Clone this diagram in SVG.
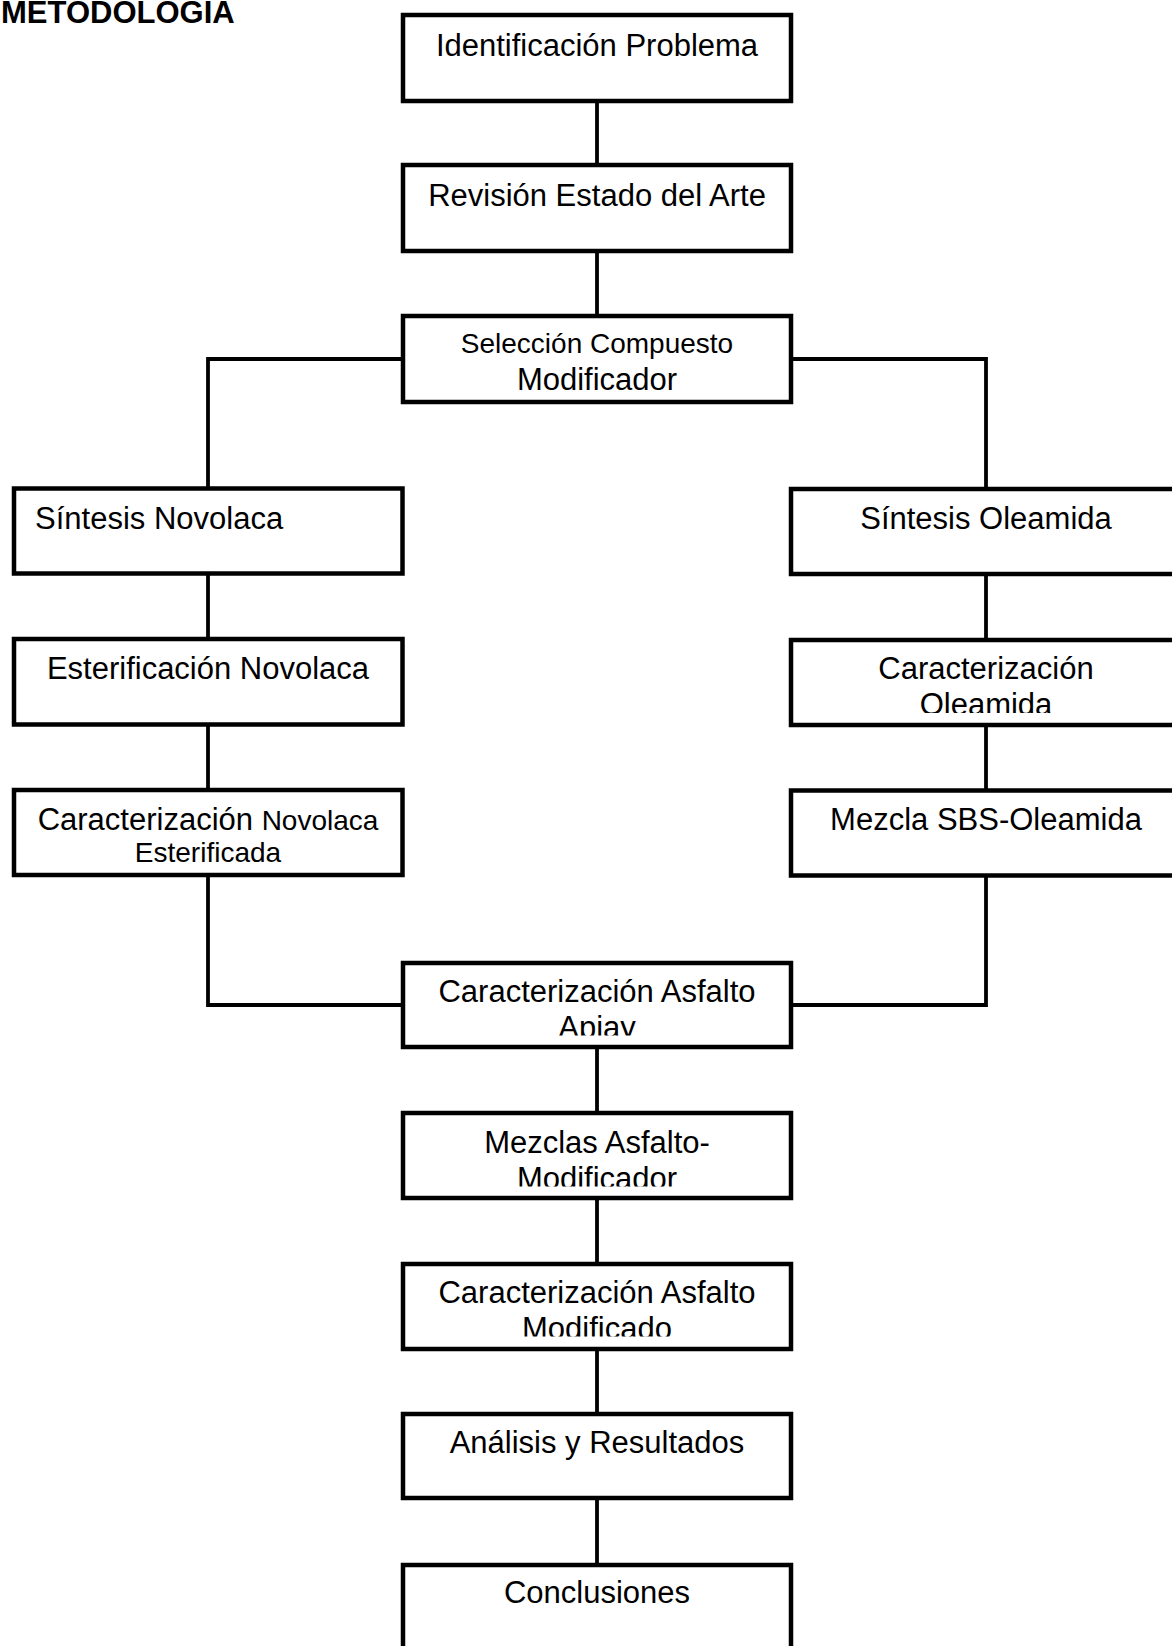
<svg xmlns="http://www.w3.org/2000/svg" width="1172" height="1646" viewBox="0 0 1172 1646">
<style>
  .box { fill: #ffffff; stroke: #000000; stroke-width: 4.5; }
  .conn { fill: none; stroke: #000000; stroke-width: 3.8; }
  .t { font-family: "Liberation Sans", Arial, sans-serif; font-size: 31px; fill: #000000; }
  .s { font-size: 28px; }
  .c { text-anchor: middle; }
  .title { font-family: "Liberation Sans", Arial, sans-serif; font-size: 31px; font-weight: bold; fill: #000000; }
</style>
<defs>
  <clipPath id="clipR2" clipPathUnits="userSpaceOnUse"><rect x="780" y="640" width="400" height="73"/></clipPath>
  <clipPath id="clipC4" clipPathUnits="userSpaceOnUse"><rect x="390" y="963" width="410" height="72.5"/></clipPath>
  <clipPath id="clipC5" clipPathUnits="userSpaceOnUse"><rect x="390" y="1113" width="410" height="73.5"/></clipPath>
  <clipPath id="clipC6" clipPathUnits="userSpaceOnUse"><rect x="390" y="1264" width="410" height="72.5"/></clipPath>
</defs>
<rect x="0" y="0" width="1172" height="1646" fill="#ffffff"/>
<text class="title" x="1" y="22.5">METODOLOGIA</text>

<g id="connectors">
  <line class="conn" x1="597" y1="101" x2="597" y2="165"/>
  <line class="conn" x1="597" y1="251" x2="597" y2="316"/>
  <path class="conn" d="M403,359 H208 V488.5"/>
  <path class="conn" d="M791,359 H986 V489"/>
  <line class="conn" x1="208" y1="573.5" x2="208" y2="639"/>
  <line class="conn" x1="208" y1="724.5" x2="208" y2="790"/>
  <path class="conn" d="M208,875 V1005 H403"/>
  <line class="conn" x1="986" y1="574" x2="986" y2="640"/>
  <line class="conn" x1="986" y1="725" x2="986" y2="790.5"/>
  <path class="conn" d="M986,875.5 V1005 H791"/>
  <line class="conn" x1="597" y1="1047" x2="597" y2="1113"/>
  <line class="conn" x1="597" y1="1198" x2="597" y2="1264"/>
  <line class="conn" x1="597" y1="1349" x2="597" y2="1414"/>
  <line class="conn" x1="597" y1="1498" x2="597" y2="1565"/>
</g>

<g id="n1">
  <rect class="box" x="403" y="15" width="388" height="86"/>
  <text class="t c" x="597" y="56">Identificación Problema</text>
</g>
<g id="n2">
  <rect class="box" x="403" y="165" width="388" height="86"/>
  <text class="t c" x="597" y="206">Revisión Estado del Arte</text>
</g>
<g id="n3">
  <rect class="box" x="403" y="316" width="388" height="86"/>
  <text class="t s c" x="597" y="353">Selección Compuesto</text>
  <text class="t c" x="597" y="390">Modificador</text>
</g>
<g id="n4">
  <rect class="box" x="14" y="488.5" width="388.5" height="85"/>
  <text class="t" x="35" y="529">Síntesis Novolaca</text>
</g>
<g id="n5">
  <rect class="box" x="14" y="639" width="388.5" height="85.5"/>
  <text class="t c" x="208" y="679">Esterificación Novolaca</text>
</g>
<g id="n6">
  <rect class="box" x="14" y="790" width="388.5" height="85"/>
  <text class="t c" x="208" y="830">Caracterización <tspan class="s">Novolaca</tspan></text>
  <text class="t s c" x="208" y="862">Esterificada</text>
</g>
<g id="n7">
  <rect class="box" x="791" y="489" width="390" height="85"/>
  <text class="t c" x="986" y="529">Síntesis Oleamida</text>
</g>
<g id="n8">
  <rect class="box" x="791" y="640" width="390" height="85"/>
  <g clip-path="url(#clipR2)">
    <text class="t c" x="986" y="679">Caracterización</text>
    <text class="t c" x="986" y="714.5">Oleamida</text>
  </g>
</g>
<g id="n9">
  <rect class="box" x="791" y="790.5" width="390" height="85"/>
  <text class="t c" x="986" y="830">Mezcla SBS-Oleamida</text>
</g>
<g id="n10">
  <rect class="box" x="403" y="963" width="388" height="84"/>
  <g clip-path="url(#clipC4)">
    <text class="t c" x="597" y="1002">Caracterización Asfalto</text>
    <text class="t c" x="597" y="1037.5">Apiay</text>
  </g>
</g>
<g id="n11">
  <rect class="box" x="403" y="1113" width="388" height="85"/>
  <g clip-path="url(#clipC5)">
    <text class="t c" x="597" y="1153">Mezclas Asfalto-</text>
    <text class="t c" x="597" y="1188.5">Modificador</text>
  </g>
</g>
<g id="n12">
  <rect class="box" x="403" y="1264" width="388" height="85"/>
  <g clip-path="url(#clipC6)">
    <text class="t c" x="597" y="1303">Caracterización Asfalto</text>
    <text class="t c" x="597" y="1338.5">Modificado</text>
  </g>
</g>
<g id="n13">
  <rect class="box" x="403" y="1414" width="388" height="84"/>
  <text class="t c" x="597" y="1453">Análisis y Resultados</text>
</g>
<g id="n14">
  <rect class="box" x="403" y="1565" width="388" height="90"/>
  <text class="t c" x="597" y="1603">Conclusiones</text>
</g>
</svg>
